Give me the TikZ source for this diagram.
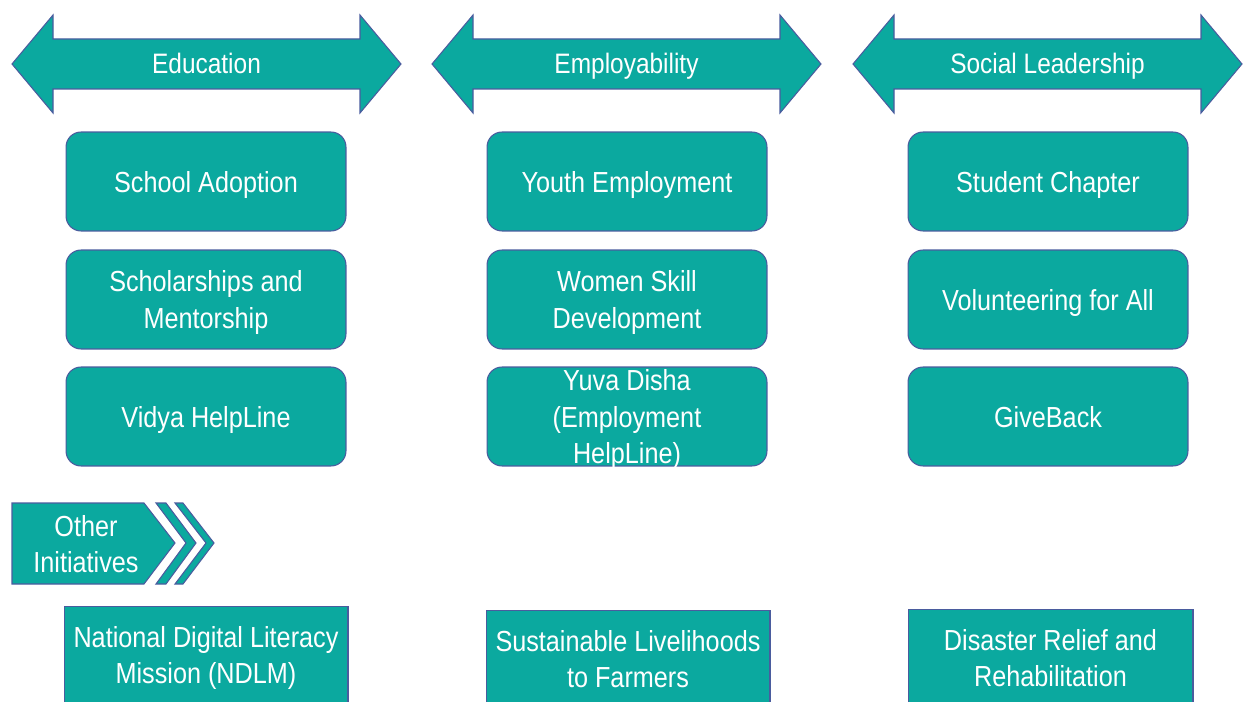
\documentclass[tikz,border=0pt]{standalone}
\usepackage{fontspec}
\setmainfont{Liberation Sans}[FakeStretch=0.87]
\usepackage{xcolor}
\definecolor{tealfill}{HTML}{0BA99F}
\definecolor{edgeblue}{HTML}{4A5C9E}
\begin{document}
\begin{tikzpicture}[x=0.02cm,y=-0.02cm,
    shapefill/.style={fill=tealfill,draw=edgeblue,line width=0.6pt},
    headtext/.style={text=white,font=\fontsize{16}{20}\selectfont},
    roundbox/.style={shapefill,rounded corners=0.3cm,minimum width=5.6cm,minimum height=1.98cm,
                     text depth=0pt,align=center,text=white,font=\fontsize{16.5}{20.5}\selectfont},
    flatbox/.style={shapefill,anchor=north,inner ysep=0.4cm,text depth=1cm,align=center,text=white,
                    font=\fontsize{16.5}{20.5}\selectfont}]
  \clip (0,0) rectangle (1243,702);
  % double arrows on top
  \foreach \x/\name/\lab in {12/edu/Education,432/emp/Employability,853/soc/Social Leadership}
  {
    \draw[shapefill] (\x,64) -- (\x+41,15) -- (\x+41,39) -- (\x+348,39) -- (\x+348,15)
        -- (\x+389,64) -- (\x+348,113) -- (\x+348,89) -- (\x+41,89) -- (\x+41,113) -- cycle;
    \node[headtext,anchor=base] (\name) at (\x+194.5,74) {\lab};
  }
  % programme boxes
  \node[roundbox] (school) at (206,181.5) {School Adoption};
  \node[roundbox] (scholar) at (206,299.5) {Scholarships and\\Mentorship};
  \node[roundbox] (vidya) at (206,416.5) {Vidya HelpLine};
  \node[roundbox] (youth) at (627,181.5) {Youth Employment};
  \node[roundbox] (women) at (627,299.5) {Women Skill\\Development};
  \node[roundbox,inner ysep=0pt] (yuva) at (627,416.5) {Yuva Disha\\(Employment\\HelpLine)};
  \node[roundbox] (chapter) at (1048,181.5) {Student Chapter};
  \node[roundbox] (volunteer) at (1048,299.5) {Volunteering for All};
  \node[roundbox] (giveback) at (1048,416.5) {GiveBack};
  % other initiatives tag
  \draw[shapefill] (12,503) -- (144,503) -- (175,543) -- (144,584) -- (12,584) -- cycle;
  \draw[shapefill] (156,503) -- (166,503) -- (196,543) -- (166,584) -- (156,584) -- (186,543) -- cycle;
  \draw[shapefill] (175,503) -- (183,503) -- (214,543) -- (183,584) -- (175,584) -- (206,543) -- cycle;
  \node[headtext,align=center,font=\fontsize{16.5}{20.5}\selectfont] (other) at (86,544) {Other\\Initiatives};
  % bottom boxes, cut by the page edge
  \node[flatbox,minimum width=5.68cm] (ndlm) at (206,606) {National Digital Literacy\\Mission (NDLM)};
  \node[flatbox,minimum width=5.68cm] (farmers) at (628,610) {Sustainable Livelihoods\\to Farmers};
  \node[flatbox,minimum width=5.7cm] (disaster) at (1050.5,609) {Disaster Relief and\\Rehabilitation};
\end{tikzpicture}
\end{document}
